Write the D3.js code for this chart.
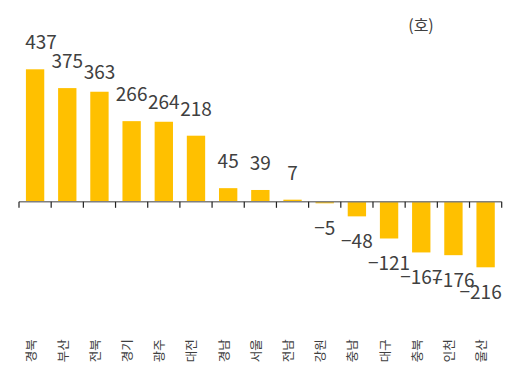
<!DOCTYPE html>
<html><head><meta charset="utf-8">
<script src="https://cdn.jsdelivr.net/npm/d3@7"></script>
<style>
html,body{margin:0;padding:0;background:#fff;}
svg{display:block;}
</style></head>
<body>
<svg id="chart" width="527" height="378"></svg>
<script>
const categories = ["경북","부산","전북","경기","광주","대전","경남","서울","전남","강원","충남","대구","충북","인천","울산"];
const values = [437,375,363,266,264,218,45,39,7,-5,-48,-121,-167,-176,-216];
const unitLabel = "(호)";

const W = 527, H = 378;
const svg = d3.select("#chart");
const left = 19, right = 501.7;
const x = d3.scaleBand().domain(categories).range([left, right]).paddingInner(0.43).paddingOuter(0.215);
const y = d3.scaleLinear().domain([-216, 437]).range([267.3, 69.3]);
const y0 = y(0);
const font = "'Noto Sans CJK KR','Noto Sans',sans-serif";

// bars
svg.append("g").selectAll("rect").data(values).join("rect")
  .attr("x", (d,i) => x(categories[i]))
  .attr("width", x.bandwidth())
  .attr("y", d => d >= 0 ? y(d) : y0)
  .attr("height", d => Math.abs(y(d) - y0))
  .attr("fill", "#FFC000");

// axis line and ticks
const band = x.step();
const tickX = d3.range(categories.length + 1).map(i => left + i * band);
svg.append("line").attr("x1", left).attr("x2", right).attr("y1", y0).attr("y2", y0)
  .attr("stroke", "#7f7f7f").attr("stroke-width", 1.5);
svg.append("g").selectAll("line").data(tickX).join("line")
  .attr("x1", d => d).attr("x2", d => d).attr("y1", y0).attr("y2", y0 + 6)
  .attr("stroke", "#222").attr("stroke-width", 1.2);

// value labels
const nudge = {"경북": [6, 0], "전북": [0, 7], "광주": [0, 7]};
svg.append("g").selectAll("text").data(values).join("text")
  .attr("x", (d,i) => {
    const c = x(categories[i]) + x.bandwidth() / 2 + (nudge[categories[i]] ? nudge[categories[i]][0] : 0);
    return c;
  })
  .attr("y", (d,i) => (d >= 0 ? y(d) - 20 : y(d) + 32) + (nudge[categories[i]] ? nudge[categories[i]][1] : 0))
  .attr("text-anchor", "middle")
  .attr("font-family", font).attr("font-size", 19).attr("fill", "#404040")
  .text(d => d < 0 ? "\u2212" + Math.abs(d) : d)
  .each(function() {
    const bb = this.getBBox();
    if (bb.x + bb.width > right) {
      d3.select(this).attr("x", +d3.select(this).attr("x") - (bb.x + bb.width - right));
    }
  });

// category labels (rotated)
svg.append("g").selectAll("text").data(categories).join("text")
  .attr("transform", d => `translate(${x(d) + x.bandwidth()/2 + 0.5},350.7) rotate(-90)`)
  .attr("text-anchor", "middle")
  .attr("font-family", font).attr("font-size", 12.5).attr("fill", "#404040")
  .text(d => d);

// unit label
svg.append("text").attr("x", 421).attr("y", 31).attr("text-anchor", "middle")
  .attr("font-family", font).attr("font-size", 16).attr("fill", "#404040")
  .text(unitLabel);
</script>
</body></html>
